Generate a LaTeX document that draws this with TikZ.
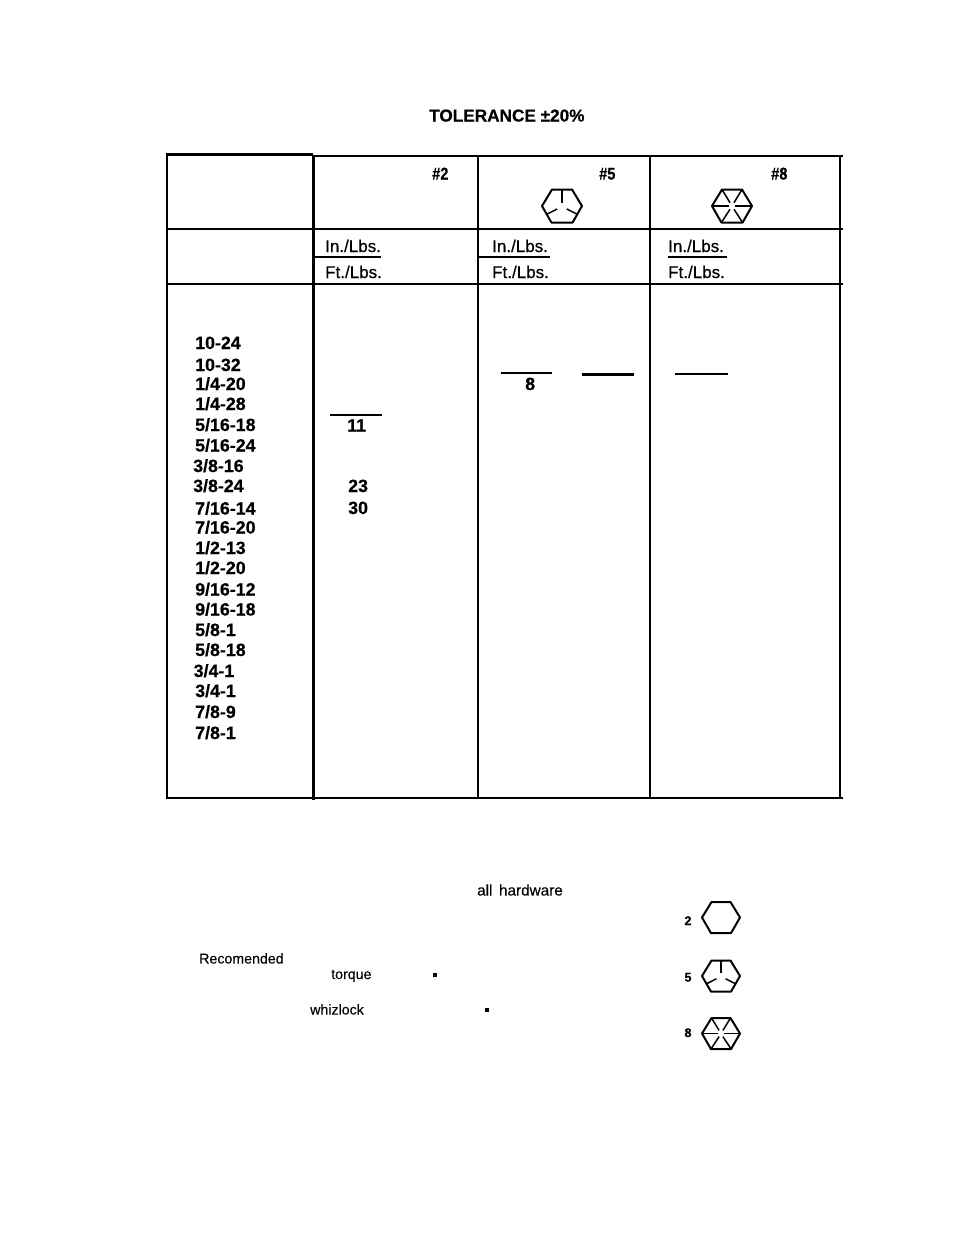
\documentclass[tikz,border=0pt]{standalone}
\usepackage{fontspec}
\setmainfont[BoldFeatures={FakeBold=0.45}]{Liberation Sans}
\newfontfamily\semifont[FakeBold=0.5]{Liberation Sans}
\newfontfamily\notefont[FakeBold=0.15]{Liberation Sans}
\newfontfamily\tallfont[FakeBold=0.45,FakeStretch=0.86]{Liberation Sans Bold}
\newcommand{\fsz}[1]{\fontsize{#1}{#1}\selectfont}
\tikzset{
  x=1pt,y=-1pt,
  rule/.style={line width=2.2pt,black,line cap=butt},
  rulethick/.style={line width=2.9pt,black,line cap=butt},
  dash line/.style={line width=2.2pt,black},
  sizelabel/.style={anchor=base west,inner sep=0pt,font=\bfseries\fsz{17.8}},
  vallabel/.style={anchor=base west,inner sep=0pt,font=\bfseries\fsz{17.8}},
  unitlabel/.style={anchor=base west,inner sep=0pt,font=\semifont\fsz{17}},
  gradehead/.style={anchor=base west,inner sep=0pt,font=\tallfont\fsz{17}},
  note/.style={anchor=base west,inner sep=0pt,font=\notefont\fsz{14.2}},
  gradeno/.style={anchor=base,inner sep=0pt,font=\bfseries\fsz{12.5}},
  hexline/.style={line width=2pt,black,line join=round},
  spoke/.style={line width=1.5pt,black},
  pics/hexplain/.style={code={
    \draw[hexline] (-1,0)--(-.5,-1)--(.5,-1)--(1,0)--(.53,1)--(-.53,1)--cycle;}},
  pics/hexfive/.style={code={
    \draw[hexline] (-1,0)--(-.5,-1)--(.5,-1)--(1,0)--(.53,1)--(-.53,1)--cycle;
    \draw[spoke] (0,-1)--(0,-.2);
    \draw[spoke] (-.76,.5)--(-.24,.18);
    \draw[spoke] (.76,.5)--(.24,.18);}},
  pics/hexeight/.style={code={
    \draw[hexline] (-1,0)--(-.5,-1)--(.5,-1)--(1,0)--(.53,1)--(-.53,1)--cycle;
    \draw[spoke] (-1,0)--(-.15,0) (1,0)--(.15,0);
    \draw[spoke] (-.5,-1)--(-.1,-.2) (.5,-1)--(.1,-.2);
    \draw[spoke] (-.53,1)--(-.1,.2) (.53,1)--(.1,.2);}},
}
\begin{document}
\begin{tikzpicture}
\useasboundingbox (0,0) rectangle (954,1235);
\fill[white] (0,0) rectangle (954,1235);

% table frame
\draw[rule] (166,154.5)--(313,154.5);
\draw[rule] (313,156)--(843,156);
\draw[rule] (167,153.5)--(167,799);
\draw[rulethick] (313.5,155)--(313.5,800);
\draw[rule] (478,156)--(478,798);
\draw[rule] (650,156)--(650,798);
\draw[rule] (840,156)--(840,798);
\draw[rule] (167,229)--(843,229);
\draw[rule] (167,284)--(843,284);
\draw[rule] (166,798)--(843,798);

% title
\node[anchor=base west,inner sep=0pt,font=\bfseries\fsz{17.2}] (title) at (429,121.5) {TOLERANCE ±20\%};

% grade heads
\node[gradehead] (g2) at (432,179.5) {\#2};
\node[gradehead] (g5) at (599,179.5) {\#5};
\node[gradehead] (g8) at (771,179.5) {\#8};
\pic[xscale=20,yscale=16.5] at (562,206) {hexfive};
\pic[xscale=20,yscale=16.5] at (732,206) {hexeight};

% units
\node[unitlabel] (in2) at (325,252) {In./Lbs.};
\node[unitlabel] (in5) at (492,252) {In./Lbs.};
\node[unitlabel] (in8) at (668,252) {In./Lbs.};
\node[unitlabel] (ft2) at (325,278) {Ft./Lbs.};
\node[unitlabel] (ft5) at (492,278) {Ft./Lbs.};
\node[unitlabel] (ft8) at (668,278) {Ft./Lbs.};
\draw[dash line] (314,257)--(381,257);
\draw[dash line] (479,257)--(550,257);
\draw[dash line] (668,257)--(727,257);

% bolt sizes
\node[sizelabel] (s1) at (195,349) {10-24};
\node[sizelabel] (s2) at (195,371) {10-32};
\node[sizelabel] (s3) at (195,390) {1/4-20};
\node[sizelabel] (s4) at (195,410) {1/4-28};
\node[sizelabel] (s5) at (195,431) {5/16-18};
\node[sizelabel] (s6) at (195,451.5) {5/16-24};
\node[sizelabel] (s7) at (193,472) {3/8-16};
\node[sizelabel] (s8) at (193,492) {3/8-24};
\node[sizelabel] (s9) at (195,514.5) {7/16-14};
\node[sizelabel] (s10) at (195,533.5) {7/16-20};
\node[sizelabel] (s11) at (195,554) {1/2-13};
\node[sizelabel] (s12) at (195,574) {1/2-20};
\node[sizelabel] (s13) at (195,595.5) {9/16-12};
\node[sizelabel] (s14) at (195,615.5) {9/16-18};
\node[sizelabel] (s15) at (195,636) {5/8-1};
\node[sizelabel] (s16) at (195,656) {5/8-18};
\node[sizelabel] (s17) at (193.5,677) {3/4-1};
\node[sizelabel] (s18) at (195,697) {3/4-1};
\node[sizelabel] (s19) at (195,718) {7/8-9};
\node[sizelabel] (s20) at (195,739) {7/8-1};

% values
\draw[rulethick,line width=2.4pt] (330,415)--(382,415);
\node[vallabel] (v11) at (347,431.5) {11};
\node[vallabel] (v23) at (348,492) {23};
\node[vallabel] (v30) at (348,514) {30};
\draw[dash line] (501,373)--(552,373);
\node[vallabel] (v8) at (525,390) {8};
\draw[rulethick] (582,374.5)--(634,374.5);
\draw[rulethick] (675,374)--(728,374);

% notes
\node[note,font=\notefont\fsz{15.3}] (n1) at (477,895.5) {all\hspace{0.15em} hardware};
\node[note] (n2) at (199,963.5) {Recomended};
\node[note] (n3) at (331,979) {torque};
\node[note] (n4) at (310,1014.5) {whizlock};
\fill (432.7,973.3) rectangle (436.7,977.3);
\fill (484.7,1008.3) rectangle (488.7,1012.3);

% grade key
\node[gradeno] (k2) at (688,925) {2};
\node[gradeno] (k5) at (688,981.5) {5};
\node[gradeno] (k8) at (688,1037) {8};
\pic[xscale=19,yscale=15.5] at (721,917.5) {hexplain};
\pic[xscale=19,yscale=15.5] at (721,976) {hexfive};
\pic[xscale=19,yscale=15.5] at (721,1033.5) {hexeight};
\end{tikzpicture}
\end{document}
